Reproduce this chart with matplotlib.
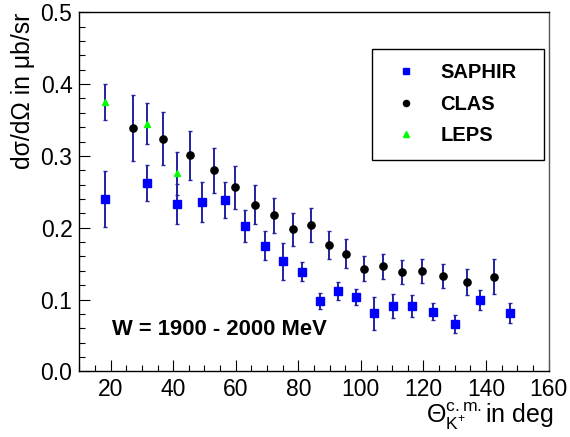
import matplotlib
matplotlib.use('Agg')
import matplotlib.pyplot as plt
from matplotlib.ticker import MultipleLocator, FormatStrFormatter

plt.rcParams['font.family'] = ['Liberation Sans', 'DejaVu Sans']
plt.rcParams['mathtext.fontset'] = 'custom'
plt.rcParams['mathtext.rm'] = 'Liberation Sans'
plt.rcParams['mathtext.it'] = 'Liberation Sans:italic'
plt.rcParams['mathtext.bf'] = 'Liberation Sans:bold'

# K+ Lambda differential cross sections, W = 1900 - 2000 MeV
saphir_theta = [18.2, 31.7, 41.2, 49.3, 56.4, 63.1, 69.4, 75.2, 81.1, 86.9,
                92.6, 98.3, 104.1, 110.2, 116.3, 123.0, 130.1, 138.2, 147.7]
saphir_xs = [0.240, 0.262, 0.233, 0.236, 0.239, 0.202, 0.175, 0.153, 0.139, 0.098,
             0.112, 0.103, 0.081, 0.091, 0.091, 0.083, 0.066, 0.099, 0.081]
saphir_err = [0.039, 0.025, 0.028, 0.028, 0.025, 0.022, 0.020, 0.026, 0.013, 0.011,
              0.012, 0.011, 0.023, 0.017, 0.015, 0.012, 0.0125, 0.014, 0.0135]

clas_theta = [27.1, 36.8, 45.5, 53.0, 59.8, 66.3, 72.3, 78.3, 84.1, 89.7,
              95.4, 101.1, 107.1, 113.2, 119.6, 126.4, 134.0, 142.7]
clas_xs = [0.339, 0.324, 0.301, 0.280, 0.256, 0.232, 0.217, 0.198, 0.204, 0.176,
           0.164, 0.143, 0.146, 0.138, 0.140, 0.133, 0.124, 0.132]
clas_err = [0.046, 0.037, 0.034, 0.031, 0.030, 0.027, 0.025, 0.023, 0.024, 0.020,
            0.020, 0.017, 0.017, 0.017, 0.017, 0.017, 0.018, 0.025]

leps_theta = [18.2, 31.7, 41.2]
leps_xs = [0.375, 0.345, 0.276]
leps_err = [0.025, 0.028, 0.030]

err_col = '#2323a0'

fig = plt.figure(figsize=(5.7, 4.37), dpi=100)
ax = fig.add_axes([0.1393, 0.1503, 0.8230, 0.8216])

# error bars first so the markers sit on top
for th, xs, er in [(saphir_theta, saphir_xs, saphir_err),
                   (clas_theta, clas_xs, clas_err),
                   (leps_theta, leps_xs, leps_err)]:
    ax.errorbar(th, xs, yerr=er, fmt='none', ecolor=err_col, elinewidth=1.4,
                capsize=1.6, capthick=1.0, zorder=2)

ax.plot(saphir_theta, saphir_xs, 's', color='#0000ff', ms=5.6, mec='#0000ff',
        ls='none', label='SAPHIR', zorder=3)
ax.plot(clas_theta, clas_xs, 'o', color='black', ms=5.2, ls='none',
        label='CLAS', zorder=3)
ax.plot(leps_theta, leps_xs, '^', color='#00ff00', ms=4.6, mec='#00ff00',
        ls='none', label='LEPS', zorder=3)

ax.set_xlim(10, 160)
ax.set_ylim(0, 0.5)
ax.xaxis.set_major_locator(MultipleLocator(20))
ax.xaxis.set_minor_locator(MultipleLocator(5))
ax.yaxis.set_major_locator(MultipleLocator(0.1))
ax.yaxis.set_minor_locator(MultipleLocator(0.02))
ax.yaxis.set_major_formatter(FormatStrFormatter('%.1f'))
ax.tick_params(which='both', direction='in', top=False, right=False,
               width=0.8, colors='black', labelsize=16.5)
ax.tick_params(which='major', length=8)
ax.tick_params(which='minor', length=4)
ax.tick_params(axis='x', pad=5)
ax.tick_params(axis='y', pad=5)
xt = ax.get_xticks()
ax.set_xticks([t for t in xt if 20 <= t <= 160])
for sp in ax.spines.values():
    sp.set_linewidth(1.0)
ax.spines['right'].set_color('#555555')

ax.set_ylabel('dσ/dΩ in μb/sr', fontsize=17.8, loc='top')
ax.yaxis.set_label_coords(-0.094, 1.0)
ax.set_xlabel(r'$\Theta^{\mathrm{c.m.}}_{\mathrm{K}^{+}}$in deg', fontsize=18,
              loc='right')
ax.xaxis.set_label_coords(1.012, -0.082)

ax.text(20.3, 0.050, 'W = 1900 - 2000 MeV', fontsize=15.8, fontweight='bold',
        ha='left', va='baseline')

leg = ax.legend(loc='upper left', bbox_to_anchor=(0.623, 0.607, 0.368, 0.291),
                mode='expand', borderaxespad=0, fancybox=False, frameon=True,
                edgecolor='black', framealpha=1, markerscale=0.85,
                handlelength=2.0, handletextpad=0.7, borderpad=0.72,
                labelspacing=0.62, prop={'size': 14.5, 'weight': 'bold'})
leg.get_frame().set_linewidth(1.0)

fig.savefig('out.png', dpi=100)
